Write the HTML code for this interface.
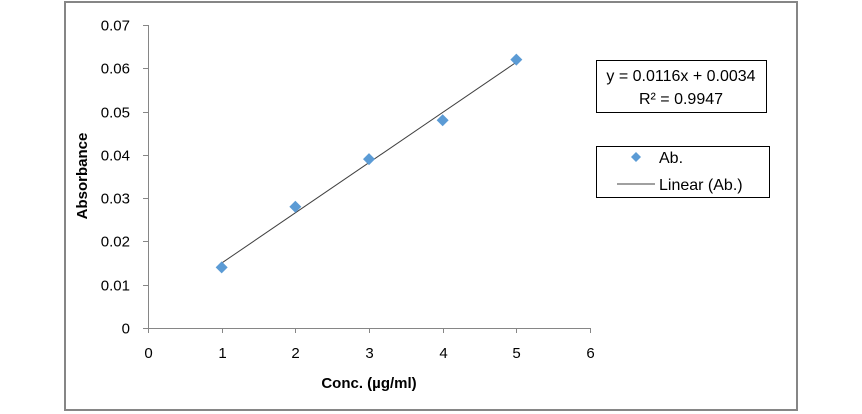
<!DOCTYPE html>
<html><head><meta charset="utf-8"><style>
body{margin:0;background:#fff;}
svg{display:block;font-family:"Liberation Sans",sans-serif;}
</style></head><body>
<svg id="chart" width="862" height="414">
<rect x="65" y="2" width="732" height="408" fill="#fff" stroke="#868686" stroke-width="2"/>
<g id="axes"></g>
<g id="marks"></g>
<text x="0" y="0" transform="translate(87,176) rotate(-90)" text-anchor="middle" font-size="15" font-weight="bold" fill="#000">Absorbance</text>
<text x="369" y="388" text-anchor="middle" font-size="15" font-weight="bold" fill="#000">Conc. (µg/ml)</text>
<g>
<rect x="596.5" y="60.5" width="170" height="52" fill="#fff" stroke="#000"/>
<text x="681" y="81" text-anchor="middle" font-size="16" fill="#000">y = 0.0116x + 0.0034</text>
<text x="681" y="104" text-anchor="middle" font-size="16" fill="#000">R² = 0.9947</text>
</g>
<g>
<rect x="596.5" y="146.5" width="173" height="51" fill="#fff" stroke="#000"/>
<g>
<path d="M636,152 L641,157 L636,162 L631,157 Z" fill="#5b9bd5"/>
<text x="659" y="163" font-size="16" fill="#000">Ab.</text>
</g>
<g>
<line x1="617" y1="184" x2="655" y2="184" stroke="#404040" stroke-width="1"/>
<text x="659" y="190" font-size="16" fill="#000">Linear (Ab.)</text>
</g>
</g>
</svg>
<script>
const xValues=[1,2,3,4,5];
const yValues=[0.014,0.028,0.039,0.048,0.062];
const xTicks=[0,1,2,3,4,5,6];
const yTicks=[0,0.01,0.02,0.03,0.04,0.05,0.06,0.07];
const slope=0.0116, intercept=0.0034;
const NS='http://www.w3.org/2000/svg';
const X0=148,X1=590,Y0=328,Y1=25;
function sx(v){return X0+(v-0)/(6-0)*(X1-X0);}
function sy(v){return Y0-(v-0)/(0.07-0)*(Y0-Y1);}
function mk(t,a,p){const e=document.createElementNS(NS,t);for(const k in a)e.setAttribute(k,a[k]);p.appendChild(e);return e;}
const axes=document.getElementById('axes'),marks=document.getElementById('marks');
const ya=mk('line',{x1:X0+.5,y1:Y1,x2:X0+.5,y2:Y0,stroke:'#868686'},axes);


const xa=mk('line',{x1:X0,y1:Y0+.5,x2:X1,y2:Y0+.5,stroke:'#868686'},axes);


yTicks.forEach(v=>{const y=Math.round(sy(v))+.5;
mk('line',{x1:X0-5,y1:y,x2:X0,y2:y,stroke:'#868686'},axes);
const t=mk('text',{x:X0-18,y:y+5,'text-anchor':'end','font-size':15,fill:'#000'},axes);
t.textContent=v===0?'0':v.toFixed(2);

});
xTicks.forEach(v=>{const x=Math.round(sx(v))+.5;
mk('line',{x1:x,y1:Y0,x2:x,y2:Y0+5,stroke:'#868686'},axes);
const t=mk('text',{x:x,y:Y0+30,'text-anchor':'middle','font-size':15,fill:'#000'},axes);
t.textContent=v;

});
const xmin=Math.min(...xValues),xmax=Math.max(...xValues);
const tl=mk('line',{x1:sx(xmin),y1:sy(slope*xmin+intercept),x2:sx(xmax),y2:sy(slope*xmax+intercept),stroke:'#404040','stroke-width':1},marks);


xValues.forEach((v,i)=>{const x=sx(v),y=sy(yValues[i]);
const p=mk('path',{d:`M${x},${y-6} L${x+6},${y} L${x},${y+6} L${x-6},${y} Z`,fill:'#5b9bd5'},marks);

});
</script>
</body></html>
